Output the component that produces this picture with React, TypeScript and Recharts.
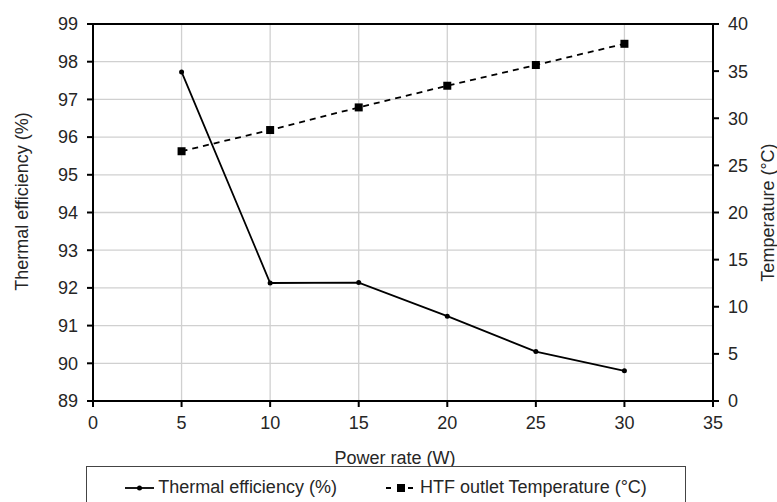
import {
  LineChart,
  Line,
  XAxis,
  YAxis,
  CartesianGrid,
  Legend,
  ReferenceLine
} from 'recharts';

const powerRate = [5, 10, 15, 20, 25, 30];
const thermalEfficiency = [97.73, 92.13, 92.14, 91.25, 90.31, 89.8];
const outletTemperature = [26.5, 28.75, 31.15, 33.45, 35.65, 37.9];

const xTicks = [0, 5, 10, 15, 20, 25, 30, 35];
const efficiencyTicks = [89, 90, 91, 92, 93, 94, 95, 96, 97, 98, 99];
const temperatureTicks = [0, 5, 10, 15, 20, 25, 30, 35, 40];

const data = powerRate.map((p, i) => ({
  power: p,
  efficiency: thermalEfficiency[i],
  temperature: outletTemperature[i]
}));

const FONT = '"Liberation Sans", Arial, sans-serif';
const textColor = '#262626';
const tickStyle = { fill: textColor, fontSize: 18, fontFamily: FONT };

const SquareDot = (props: any) => {
  const { cx, cy } = props;
  if (cx == null || cy == null) return null;
  return <rect x={cx - 4} y={cy - 4} width={8} height={8} fill="#000" />;
};

const axisTitle = (value: string, dx: number, dy: number, angle: number) => (props: any) => {
  const vb = props.viewBox;
  const x = vb.x + dx;
  const y = vb.y + (angle ? vb.height / 2 : 0) + dy;
  return (
    <text
      x={x}
      y={y}
      textAnchor="middle"
      dominantBaseline="central"
      transform={angle ? `rotate(${angle}, ${x}, ${y})` : undefined}
      fill={textColor}
      fontSize={18}
      fontFamily={FONT}
    >
      {value}
    </text>
  );
};

const renderLegend = () => (
  <div
    style={{
      border: '1px solid #444',
      height: 45,
      boxSizing: 'border-box',
      display: 'flex',
      justifyContent: 'center',
      alignItems: 'center',
      paddingBottom: 2,
      gap: 49,
      background: '#fff',
      fontFamily: FONT,
      fontSize: 18,
      color: textColor
    }}
  >
    <div style={{ display: 'flex', alignItems: 'center', gap: 4 }}>
      <svg width={29} height={10}>
        <line x1={0} y1={5} x2={29} y2={5} stroke="#000" strokeWidth={1.8} />
        <circle cx={14.5} cy={5} r={2.5} fill="#000" />
      </svg>
      <span>Thermal efficiency (%)</span>
    </div>
    <div style={{ display: 'flex', alignItems: 'center', gap: 4 }}>
      <svg width={30} height={10}>
        <line x1={0} y1={5} x2={30} y2={5} stroke="#000" strokeWidth={1.8} strokeDasharray="5 6" />
        <rect x={11} y={1} width={8} height={8} fill="#000" />
      </svg>
      <span>HTF outlet Temperature (°C)</span>
    </div>
  </div>
);

export default function App() {
  return (
    <div style={{ position: 'absolute', left: 0, top: 0, background: '#fff' }}>
      <LineChart
        width={777}
        height={502}
        data={data}
        margin={{ top: 24, right: 0, left: 0, bottom: 31 }}
      >
        <CartesianGrid yAxisId="left" stroke="#d0d0d0" strokeWidth={1.3} />
        <XAxis
          dataKey="power"
          type="number"
          domain={[0, 35]}
          ticks={xTicks}
          height={70}
          stroke="#000"
          strokeWidth={2}
          tickSize={6}
          tickMargin={9}
          tick={tickStyle}
          label={{ content: axisTitle('Power rate (W)', 302, 57, 0) }}
        />
        <YAxis
          yAxisId="left"
          domain={[89, 99]}
          ticks={efficiencyTicks}
          width={93}
          stroke="#000"
          strokeWidth={2}
          tickSize={6}
          tickMargin={9}
          tick={tickStyle}
          label={{ content: axisTitle('Thermal efficiency (%)', 22, -11, -90) }}
        />
        <YAxis
          yAxisId="right"
          orientation="right"
          domain={[0, 40]}
          ticks={temperatureTicks}
          width={64}
          stroke="#000"
          strokeWidth={2}
          tickSize={6}
          tickMargin={9}
          tick={{ ...tickStyle, textAnchor: 'start' }}
          label={{ content: axisTitle('Temperature (°C)', 55, 0, -90) }}
        />
        <ReferenceLine yAxisId="left" y={99} stroke="#000" strokeWidth={2} />
        <Line
          yAxisId="left"
          dataKey="efficiency"
          stroke="#000"
          strokeWidth={1.8}
          dot={{ r: 2.5, fill: '#000', stroke: '#000', strokeWidth: 0 }}
          isAnimationActive={false}
        />
        <Line
          yAxisId="right"
          dataKey="temperature"
          stroke="#000"
          strokeWidth={1.8}
          strokeDasharray="6 5"
          dot={<SquareDot />}
          isAnimationActive={false}
        />
        <Legend
          layout="horizontal"
          verticalAlign="middle"
          content={renderLegend}
          wrapperStyle={{ left: 86, top: 466, width: 600, height: 45 }}
        />
      </LineChart>
    </div>
  );
}
